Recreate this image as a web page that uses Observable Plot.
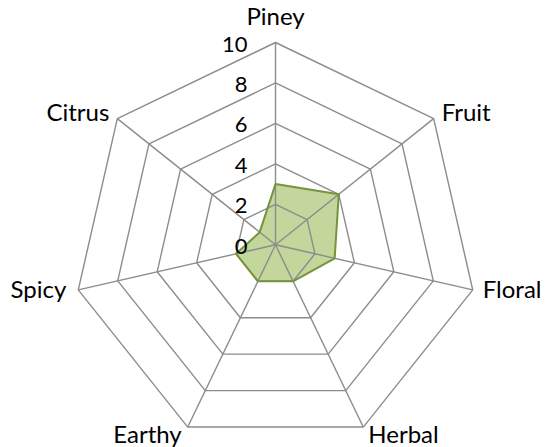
<!DOCTYPE html>
<html>
<head>
<meta charset="utf-8">
<script src="https://cdn.jsdelivr.net/npm/d3@7"></script>
<script src="https://cdn.jsdelivr.net/npm/@observablehq/plot@0.6"></script>
<style>
  html, body { margin: 0; padding: 0; background: #fff; }
  #chart svg { display: block; }
</style>
</head>
<body>
<div id="chart"></div>
<script>
// ---- data ----
const categories = ["Piney", "Fruit", "Floral", "Herbal", "Earthy", "Spicy", "Citrus"];
const values = [3, 4, 3, 2, 2, 2, 1];
const tickValues = [0, 2, 4, 6, 8, 10];
const maxValue = 10;

// ---- layout (styling, not data) ----
const W = 546, H = 447;
const cx = 275, cy = 244.3, R = 202.3;
const labelLayout = {
  Piney:  {anchor: "middle", dx: 0,   dy: -25},
  Fruit:  {anchor: "start",  dx: 8,   dy: -5},
  Floral: {anchor: "start",  dx: 10,  dy: 0},
  Herbal: {anchor: "start",  dx: 5,   dy: 8},
  Earthy: {anchor: "end",    dx: -6,  dy: 8},
  Spicy:  {anchor: "end",    dx: -12, dy: 0},
  Citrus: {anchor: "end",    dx: -8,  dy: -5}
};
const font = "Lato, 'Open Sans', sans-serif";
const fontSize = 24;
const tickFontSize = 22;

const n = categories.length;
const angle = i => i * 2 * Math.PI / n;
const pt = (i, v) => ({x: Math.sin(angle(i)) * v / maxValue, y: Math.cos(angle(i)) * v / maxValue});

// rings
const rings = tickValues.filter(t => t > 0).flatMap(t =>
  d3.range(n + 1).map(i => ({ring: t, ...pt(i % n, t)})));
// spokes
const spokes = categories.map((c, i) => ({x1: 0, y1: 0, x2: pt(i, maxValue).x, y2: pt(i, maxValue).y}));
// series polygon
const series = d3.range(n + 1).map(i => ({cat: categories[i % n], ...pt(i % n, values[i % n])}));
// tick labels
const tickData = tickValues.map(t => ({label: String(t), x: 0, y: t / maxValue}));

const gridColor = "#8c8c8c";

const labelMarks = categories.map((c, i) => {
  const L = labelLayout[c];
  return Plot.text([{label: c, ...pt(i, maxValue)}], {
    x: "x", y: "y", text: "label",
    textAnchor: L.anchor, dx: L.dx, dy: L.dy,
    fill: "#000", fontSize, fontFamily: font
  });
});

const chart = Plot.plot({
  width: W, height: H,
  margin: 0,
  x: {domain: [-1, 1], range: [cx - R, cx + R], axis: null},
  y: {domain: [-1, 1], range: [cy + R, cy - R], axis: null},
  style: {background: "#fff", overflow: "visible"},
  marks: [
    Plot.line(series, {x: "x", y: "y", fill: "#c3d69b", stroke: "none"}),
    Plot.line(rings, {x: "x", y: "y", z: "ring", stroke: gridColor, strokeWidth: 1.4}),
    Plot.link(spokes, {x1: "x1", y1: "y1", x2: "x2", y2: "y2", stroke: gridColor, strokeWidth: 1.4}),
    Plot.line(series, {x: "x", y: "y", stroke: "#77933c", strokeWidth: 2, fill: "none"}),
    Plot.text(tickData, {x: "x", y: "y", text: "label", textAnchor: "end", dx: -28, dy: 2,
      fill: "#000", fontSize: tickFontSize, fontFamily: font}),
    ...labelMarks
  ]
});
document.getElementById("chart").appendChild(chart);
</script>
</body>
</html>
